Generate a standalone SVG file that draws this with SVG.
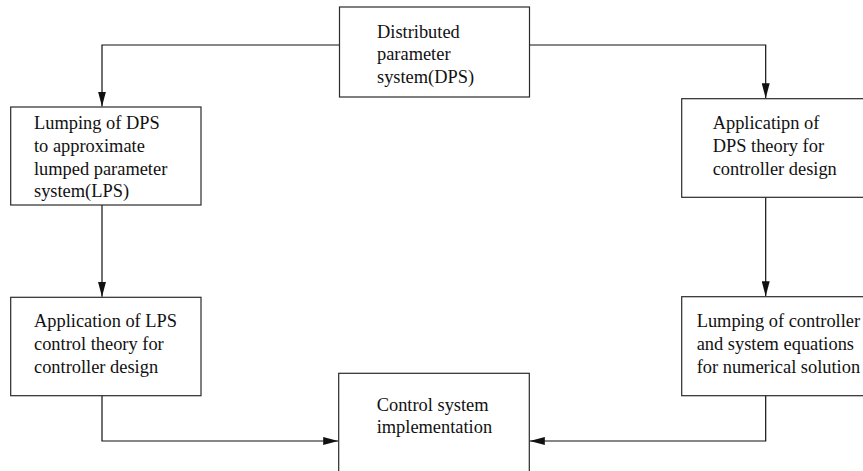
<svg xmlns="http://www.w3.org/2000/svg" width="863" height="471" viewBox="0 0 863 471">
  <style>
    .box { fill: #ffffff; stroke: #2a2a2a; stroke-width: 1.2; }
    .lbl { font-family: "Liberation Serif", "Times New Roman", serif; font-size: 18.4px; fill: #111111; }
    .wire { fill: none; stroke: #111111; stroke-width: 1.2; }
  </style>
  <defs>
    <marker id="arrow" markerUnits="userSpaceOnUse" markerWidth="16" markerHeight="8" refX="15" refY="4" orient="auto">
      <path d="M0,0 L15,4 L0,8 Z" fill="#111111"/>
    </marker>
  </defs>
  <rect width="863" height="471" fill="#ffffff"/>

  <g id="connectors">
    <path class="wire" d="M339.5,45 H102 V106.5" marker-end="url(#arrow)"/>
    <path class="wire" d="M529.3,45 H765.7 V98.2" marker-end="url(#arrow)"/>
    <path class="wire" d="M102,205 V296.8" marker-end="url(#arrow)"/>
    <path class="wire" d="M765.7,197.3 V296.2" marker-end="url(#arrow)"/>
    <path class="wire" d="M102,395.7 V441 H338.2" marker-end="url(#arrow)"/>
    <path class="wire" d="M765.7,395.7 V441 H529.8" marker-end="url(#arrow)"/>
  </g>

  <g id="dps">
    <rect class="box" x="339.5" y="7" width="190" height="90"/>
    <text class="lbl" x="377" y="37.5">Distributed</text>
    <text class="lbl" x="377" y="60.2">parameter</text>
    <text class="lbl" x="377" y="82.8">system(DPS)</text>
  </g>

  <g id="lumping-dps">
    <rect class="box" x="10.7" y="107" width="190.3" height="98"/>
    <text class="lbl" x="34" y="129.3">Lumping of DPS</text>
    <text class="lbl" x="34" y="152">to approximate</text>
    <text class="lbl" x="34" y="174.7">lumped parameter</text>
    <text class="lbl" x="34" y="197.4">system(LPS)</text>
  </g>

  <g id="dps-theory">
    <rect class="box" x="681.7" y="98.7" width="200" height="98.6"/>
    <text class="lbl" x="712.7" y="129.3">Applicatipn of</text>
    <text class="lbl" x="712.7" y="152">DPS theory for</text>
    <text class="lbl" x="712.7" y="174.7">controller design</text>
  </g>

  <g id="lps-theory">
    <rect class="box" x="10.7" y="297.3" width="190.3" height="98.4"/>
    <text class="lbl" x="34" y="327.3">Application of LPS</text>
    <text class="lbl" x="34" y="350">control theory for</text>
    <text class="lbl" x="34" y="372.7">controller design</text>
  </g>

  <g id="lumping-controller">
    <rect class="box" x="681.7" y="296.7" width="200" height="99"/>
    <text class="lbl" x="696.7" y="327.3">Lumping of controller</text>
    <text class="lbl" x="696.7" y="350">and system equations</text>
    <text class="lbl" x="696.7" y="372.7">for numerical solution</text>
  </g>

  <g id="implementation">
    <rect class="box" x="338.7" y="373.3" width="190.6" height="120"/>
    <text class="lbl" x="376.7" y="410.7">Control system</text>
    <text class="lbl" x="376.7" y="433.3">implementation</text>
  </g>
</svg>
